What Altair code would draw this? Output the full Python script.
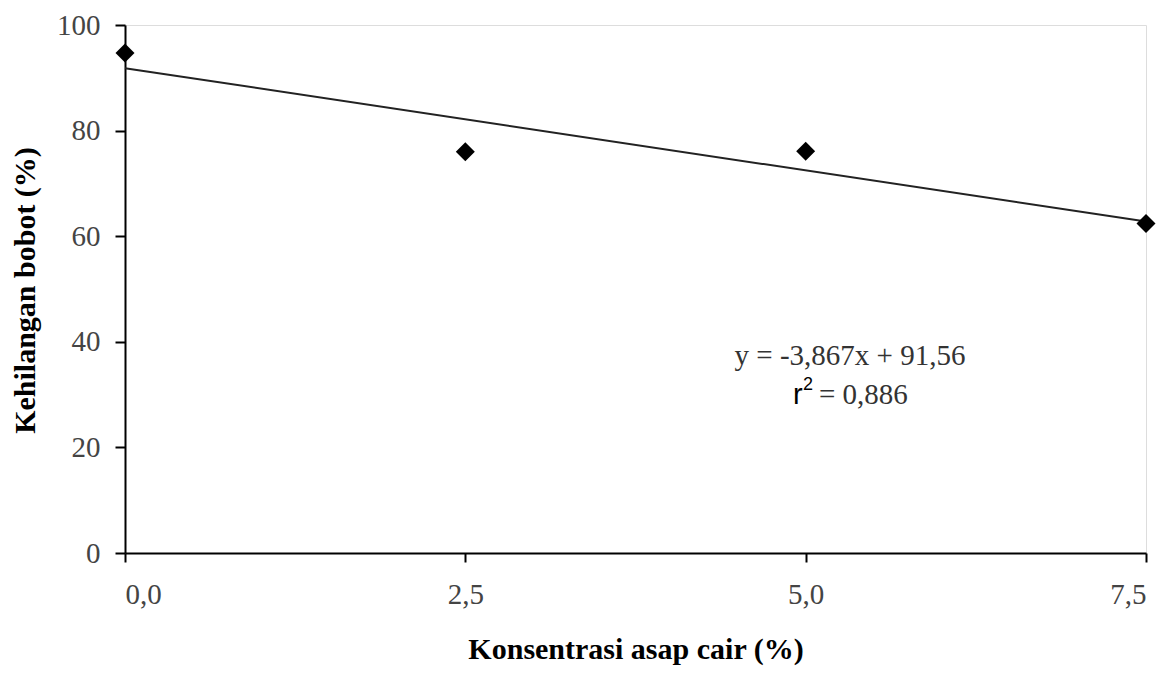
import altair as alt
import pandas as pd

konsentrasi = [0.0, 2.5, 5.0, 7.5]
kehilangan = [94.7, 76.0, 76.1, 62.4]

df = pd.DataFrame({"x": konsentrasi, "y": kehilangan})

serif = "Liberation Serif"
sans = "Liberation Sans"

xs = alt.Scale(domain=[0, 7.5], nice=False, zero=False)
ys = alt.Scale(domain=[0, 100], nice=False)

xaxis = alt.Axis(
    values=konsentrasi,
    labelExpr="replace(format(datum.value, '.1f'), '.', ',')",
    grid=False, domainColor="black", domainWidth=2, tickColor="black", tickWidth=2,
    tickSize=9, labelPadding=18, labelFont=serif, labelFontSize=29, labelColor="#444444",
    title="Konsentrasi asap cair (%)", titleFont=serif, titleFontSize=30,
    titleFontWeight="bold", titleColor="black",
    titleY=105, titleBaseline="alphabetic", titleAlign="center",
)
yaxis = alt.Axis(
    values=[0, 20, 40, 60, 80, 100],
    grid=False, domainColor="black", domainWidth=2, tickColor="black", tickWidth=2,
    tickSize=10, labelPadding=15, labelFont=serif, labelFontSize=29, labelColor="#444444",
    title="Kehilangan bobot (%)", titleFont=serif, titleFontSize=30,
    titleFontWeight="bold", titleColor="black", titleAngle=270,
    titleX=-100, titleY=265, titleAlign="center", titleBaseline="middle",
)

base = alt.Chart(df)

points = base.mark_point(shape="diamond", filled=True, color="black", size=360, opacity=1).encode(
    x=alt.X("x:Q", scale=xs, axis=xaxis),
    y=alt.Y("y:Q", scale=ys, axis=yaxis),
)

fit = base.transform_regression("x", "y", extent=[0, 7.5]).mark_line(
    color="#222222", strokeWidth=2
).encode(x=alt.X("x:Q", scale=xs), y=alt.Y("y:Q", scale=ys))

eq1 = alt.Chart(pd.DataFrame({"t": ["y = -3,867x + 91,56"]})).mark_text(
    font=serif, fontSize=29, color="#333333", align="center", baseline="middle"
).encode(text="t:N", x=alt.value(725), y=alt.value(331))

r_lbl = alt.Chart(pd.DataFrame({"t": ["r"]})).mark_text(
    font=sans, fontSize=29, color="black", align="left", baseline="middle"
).encode(text="t:N", x=alt.value(668), y=alt.value(370))

r_sup = alt.Chart(pd.DataFrame({"t": ["2"]})).mark_text(
    font=sans, fontSize=18, color="black", align="left", baseline="middle"
).encode(text="t:N", x=alt.value(678), y=alt.value(360))

eq2 = alt.Chart(pd.DataFrame({"t": ["= 0,886"]})).mark_text(
    font=serif, fontSize=29, color="#333333", align="left", baseline="middle"
).encode(text="t:N", x=alt.value(694), y=alt.value(370))

chart = alt.layer(fit, points, eq1, r_lbl, r_sup, eq2).properties(
    width=1021, height=528,
    autosize=alt.AutoSizeParams(type="none"),
    padding={"left": 117, "top": 17, "right": 10, "bottom": 118},
).configure_view(stroke=None).configure(background="white")

chart.save("out.html", embed_options={"renderer": "svg", "actions": False})
